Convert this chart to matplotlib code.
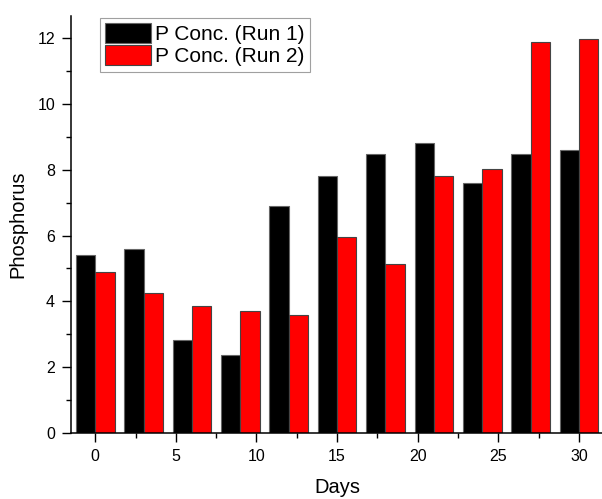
import numpy as np
import matplotlib
matplotlib.use("Agg")
import matplotlib.pyplot as plt
from matplotlib.ticker import MultipleLocator

# values
days = [0, 3, 6, 9, 12, 15, 18, 21, 24, 27, 30]
run1 = [5.40, 5.60, 2.82, 2.36, 6.91, 7.81, 8.49, 8.81, 7.59, 8.49, 8.60]
run2 = [4.88, 4.26, 3.87, 3.70, 3.57, 5.94, 5.13, 7.82, 8.01, 11.88, 11.98]

plt.rcParams["font.family"] = ["Liberation Sans", "DejaVu Sans"]

fig = plt.figure(figsize=(6.02, 4.99), dpi=100)
ax = fig.add_axes([0.118, 0.1323, 0.884, 0.8357])

x = np.array(days, dtype=float)
w = 1.2
ax.bar(x - w / 2, run1, width=w, color="black", edgecolor="#666666",
       linewidth=0.8, label="P Conc. (Run 1)")
ax.bar(x + w / 2, run2, width=w, color="#ff0000", edgecolor="#444444",
       linewidth=0.8, label="P Conc. (Run 2)")

ax.set_xlim(-1.5, 31.5)
ax.set_ylim(0, 12.67)

ax.xaxis.set_major_locator(MultipleLocator(5))
ax.xaxis.set_minor_locator(MultipleLocator(2.5))
ax.yaxis.set_major_locator(MultipleLocator(2))
ax.yaxis.set_minor_locator(MultipleLocator(1))

ax.tick_params(which="major", direction="out", length=6.5, width=1,
               labelsize=11.5, pad=5)
ax.tick_params(which="minor", direction="out", length=3.5, width=1)

for side in ["top", "right"]:
    ax.spines[side].set_visible(False)
for side in ["left", "bottom"]:
    ax.spines[side].set_linewidth(1.1)

ax.set_xlabel("Days", fontsize=14.5, labelpad=10)
ax.set_ylabel("Phosphorus", fontsize=14.5, labelpad=7)

leg = ax.legend(loc="upper left", bbox_to_anchor=(100 / 602, 1 - 18 / 499),
                bbox_transform=fig.transFigure, borderaxespad=0,
                fontsize=15, frameon=True, fancybox=False,
                handlelength=2.2, handleheight=1.1, handletextpad=0.2,
                labelspacing=0.05, borderpad=0.25)
leg.get_frame().set_edgecolor("#888888")
leg.get_frame().set_linewidth(0.8)

fig.savefig("out.png", dpi=100)
